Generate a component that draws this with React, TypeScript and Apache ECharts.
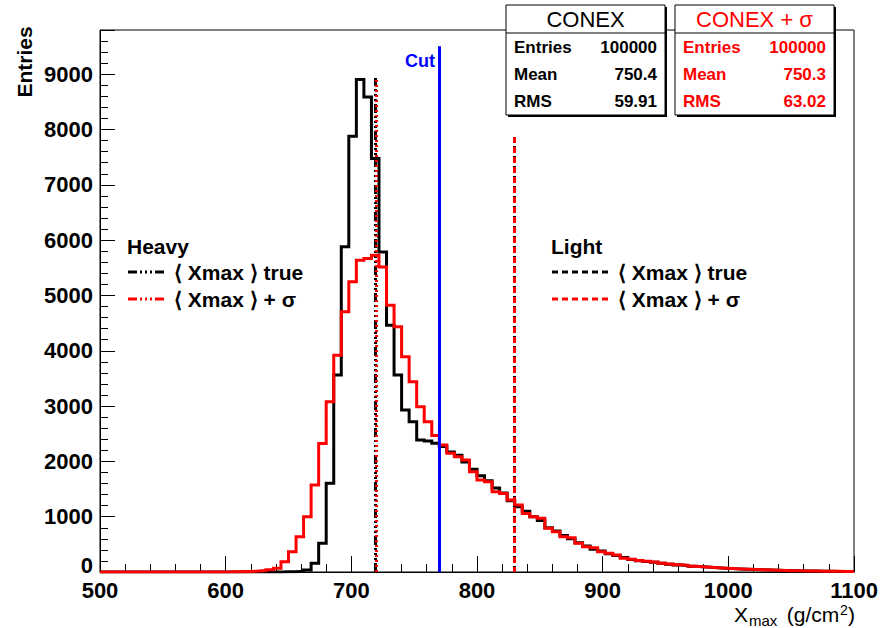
import React, { useEffect, useRef } from "react";
import * as echarts from "echarts";

// Histogram binning (100 bins of 6 g/cm^2 from 500 to 1100)
const binStart = 500;
const binWidth = 6;

// CONEX (black)
const conexCounts = [
  0, 0, 0, 0, 0, 0, 0, 0, 0, 0, 0, 0, 0, 0, 0, 0, 0, 0, 0, 0, 0, 0, 0, 0,
  3, 6, 12, 35, 157, 519, 1603, 3560, 5880, 7878, 8903, 8589, 7475, 5788, 4463, 3560,
  2927, 2716, 2385, 2370, 2330, 2270, 2170, 2110, 1990, 1860, 1740, 1650, 1520, 1430, 1290, 1180,
  1100, 1000, 930, 800, 740, 660, 600, 530, 470, 410, 380, 330, 300, 260, 225, 205,
  190, 175, 158, 142, 128, 118, 104, 94, 84, 76, 68, 61, 54, 49, 43, 39,
  34, 30, 26, 23, 20, 18, 16, 14, 13, 11, 10, 8,
];

// CONEX + sigma (red)
const conexSigmaCounts = [
  0, 0, 0, 0, 0, 0, 0, 0, 0, 0, 0, 0, 0, 0, 0,
  1, 2, 3, 6, 10, 16, 26, 40, 66, 187, 367, 638, 1000, 1572, 2325, 3078,
  3921, 4704, 5246, 5638, 5668, 5728, 5517, 4825, 4433, 3891, 3439, 2987, 2716, 2470, 2295, 2145,
  2085, 2024, 1813, 1662, 1632, 1452, 1421, 1301, 1211, 1060, 1000, 970, 789, 729, 638, 620,
  518, 458, 440, 367, 337, 307, 247, 230, 210, 195, 180, 160, 145, 130, 120, 105,
  95, 85, 78, 70, 62, 55, 50, 44, 40, 35, 30, 27, 24, 21, 19, 17,
  15, 13, 12, 10, 9,
];

// Vertical markers [x, top]
const cutLine = [770, 9505];
const heavyTrueLine = [719, 8930];
const heavySigmaLine = [720, 8930];
const lightTrueLine = [830, 7860];
const lightSigmaLine = [830, 7860];

// Stat boxes
const statLabels = ["Entries", "Mean", "RMS"];
const conexStats = ["100000", "750.4", "59.91"];
const conexSigmaStats = ["100000", "750.3", "63.02"];

const xMin = 500;
const xMax = 1100;
const yMax = 9800;

const FONT = "'Liberation Sans', Arial, Helvetica, sans-serif";

function toSteps(counts: number[]) {
  const pts: number[][] = counts.map((c, i) => [binStart + i * binWidth, c]);
  pts.push([binStart + counts.length * binWidth, counts[counts.length - 1]]);
  return pts;
}

function vline(pt: number[], color: string, dash: any, offset = 0) {
  return [
    {
      coord: [pt[0], 0],
      lineStyle: { color, width: 3, type: dash, dashOffset: offset },
    },
    { coord: [pt[0], pt[1]] },
  ];
}

function statBox(x0: number, w: number, title: string, color: string, vals: string[]) {
  const children: any[] = [
    { type: "rect", shape: { x: x0 + 2, y: 7, width: w, height: 110 }, style: { fill: "#000" } },
    { type: "rect", shape: { x: x0, y: 5, width: w, height: 110 }, style: { fill: "#fff", stroke: "#000", lineWidth: 1 } },
    { type: "line", shape: { x1: x0, y1: 33, x2: x0 + w, y2: 33 }, style: { stroke: "#000", lineWidth: 1 } },
    {
      type: "text",
      x: x0 + w / 2,
      y: 19,
      style: { text: title, fill: color, font: `22px ${FONT}`, align: "center", verticalAlign: "middle" },
    },
  ];
  statLabels.forEach((lab, i) => {
    const y = 47 + i * 27;
    children.push({
      type: "text",
      x: x0 + 8,
      y,
      style: { text: lab, fill: color, font: `bold 17px ${FONT}`, align: "left", verticalAlign: "middle" },
    });
    children.push({
      type: "text",
      x: x0 + w - 8,
      y,
      style: { text: vals[i], fill: color, font: `bold 17px ${FONT}`, align: "right", verticalAlign: "middle" },
    });
  });
  return { type: "group", children };
}

function legendBlock(x0: number, title: string, dash: number[], lineLen: number, textX: number) {
  const t = (text: string, x: number, y: number) => ({
    type: "text",
    x,
    y,
    style: { text, fill: "#000", font: `bold 21px ${FONT}`, align: "left", verticalAlign: "middle" },
  });
  return {
    type: "group",
    children: [
      t(title, x0, 246),
      { type: "line", shape: { x1: x0 + 1, y1: 272, x2: x0 + 1 + lineLen, y2: 272 }, style: { stroke: "#000", lineWidth: 3, lineDash: dash } },
      { type: "line", shape: { x1: x0 + 1, y1: 299, x2: x0 + 1 + lineLen, y2: 299 }, style: { stroke: "#ff0000", lineWidth: 3, lineDash: dash } },
      t("\u27E8 Xmax \u27E9 true", textX, 272),
      t("\u27E8 Xmax \u27E9 + \u03C3", textX, 299),
    ],
  };
}

export default function App() {
  const ref = useRef<HTMLDivElement>(null);
  useEffect(() => {
    if (!ref.current) return;
    const chart = echarts.init(ref.current, undefined, { renderer: "svg" });
    const heavyDash = [9, 3, 2, 3, 2, 3, 2, 3];
    const lightDash = [6, 4];
    const option: any = {
      animation: false,
      backgroundColor: "#fff",
      grid: {
        left: 100,
        right: 27,
        top: 30,
        bottom: 56,
        show: true,
        borderColor: "#000",
        borderWidth: 1,
        backgroundColor: "transparent",
      },
      xAxis: {
        type: "value",
        min: xMin,
        max: xMax,
        interval: 100,
        axisLine: { show: true, onZero: false, lineStyle: { color: "#000", width: 1 } },
        axisTick: { show: true, inside: true, length: 16, lineStyle: { color: "#000" } },
        minorTick: { show: true, splitNumber: 5, length: 8, lineStyle: { color: "#000" } },
        splitLine: { show: false },
        axisLabel: {
          color: "#000",
          fontSize: 22,
          fontWeight: "bold",
          fontFamily: FONT,
          margin: 9,
          lineHeight: 18,
          formatter: (v: number) => String(v),
        },
      },
      yAxis: {
        type: "value",
        min: 0,
        max: yMax,
        interval: 1000,
        axisLine: { show: true, onZero: false, lineStyle: { color: "#000", width: 1 } },
        axisTick: { show: true, inside: true, length: 15, lineStyle: { color: "#000" } },
        minorTick: { show: true, splitNumber: 5, length: 8, lineStyle: { color: "#000" } },
        splitLine: { show: false },
        axisLabel: {
          color: "#000",
          fontSize: 22,
          fontWeight: "bold",
          fontFamily: FONT,
          margin: 7,
          lineHeight: 16,
          formatter: (v: number) => (v === 0 ? "{z|0}" : v % 1000 === 0 ? String(v) : ""),
          rich: {
            z: {
              fontSize: 22,
              fontWeight: "bold",
              fontFamily: FONT,
              color: "#000",
              lineHeight: 16,
              padding: [0, 0, 14, 0],
            },
          },
        },
      },
      series: [
        {
          type: "line",
          name: "CONEX",
          data: toSteps(conexCounts),
          step: "end",
          showSymbol: false,
          symbol: "none",
          lineStyle: { color: "#000", width: 3, join: "miter" },
          z: 2,
        },
        {
          type: "line",
          name: "CONEX + sigma",
          data: toSteps(conexSigmaCounts),
          step: "end",
          showSymbol: false,
          symbol: "none",
          lineStyle: { color: "#ff0000", width: 3, join: "miter" },
          z: 3,
          markLine: {
            silent: true,
            symbol: ["none", "none"],
            label: { show: false },
            data: [
              vline(heavyTrueLine, "#000", heavyDash),
              vline(heavySigmaLine, "#ff0000", [2, 3], 0),
              vline(lightTrueLine, "#000", lightDash),
              vline(lightSigmaLine, "#ff0000", lightDash, 1),
              vline(cutLine, "#0000ff", "solid"),
            ],
          },
        },
      ],
      graphic: [
        {
          type: "text",
          x: 435,
          y: 61,
          style: { text: "Cut", fill: "#0000ff", font: `bold 18px ${FONT}`, align: "right", verticalAlign: "middle" },
        },
        legendBlock(127, "Heavy", heavyDash, 38, 174),
        legendBlock(551, "Light", lightDash, 56, 618),
        statBox(506, 159, "CONEX", "#000", conexStats),
        statBox(675, 159, "CONEX + \u03C3", "#ff0000", conexSigmaStats),
        {
          type: "text",
          x: 24,
          y: 62,
          rotation: Math.PI / 2,
          style: { text: "Entries", fill: "#000", font: `bold 21px ${FONT}`, align: "center", verticalAlign: "middle" },
        },
        {
          type: "group",
          children: [
            { type: "text", x: 734, y: 614, style: { text: "X", fill: "#000", font: `21px ${FONT}`, align: "left", verticalAlign: "middle" } },
            { type: "text", x: 749, y: 620, style: { text: "max", fill: "#000", font: `15px ${FONT}`, align: "left", verticalAlign: "middle" } },
            { type: "text", x: 781, y: 614, style: { text: " (g/cm", fill: "#000", font: `21px ${FONT}`, align: "left", verticalAlign: "middle" } },
            { type: "text", x: 840, y: 610, style: { text: "2", fill: "#000", font: `14px ${FONT}`, align: "left", verticalAlign: "middle" } },
            { type: "text", x: 848, y: 614, style: { text: ")", fill: "#000", font: `21px ${FONT}`, align: "left", verticalAlign: "middle" } },
          ],
        },
      ],
    };
    chart.setOption(option);
    return () => chart.dispose();
  }, []);
  return (
    <div
      ref={ref}
      style={{ position: "absolute", left: 0, top: 0, width: 881, height: 628, background: "#fff" }}
    />
  );
}
